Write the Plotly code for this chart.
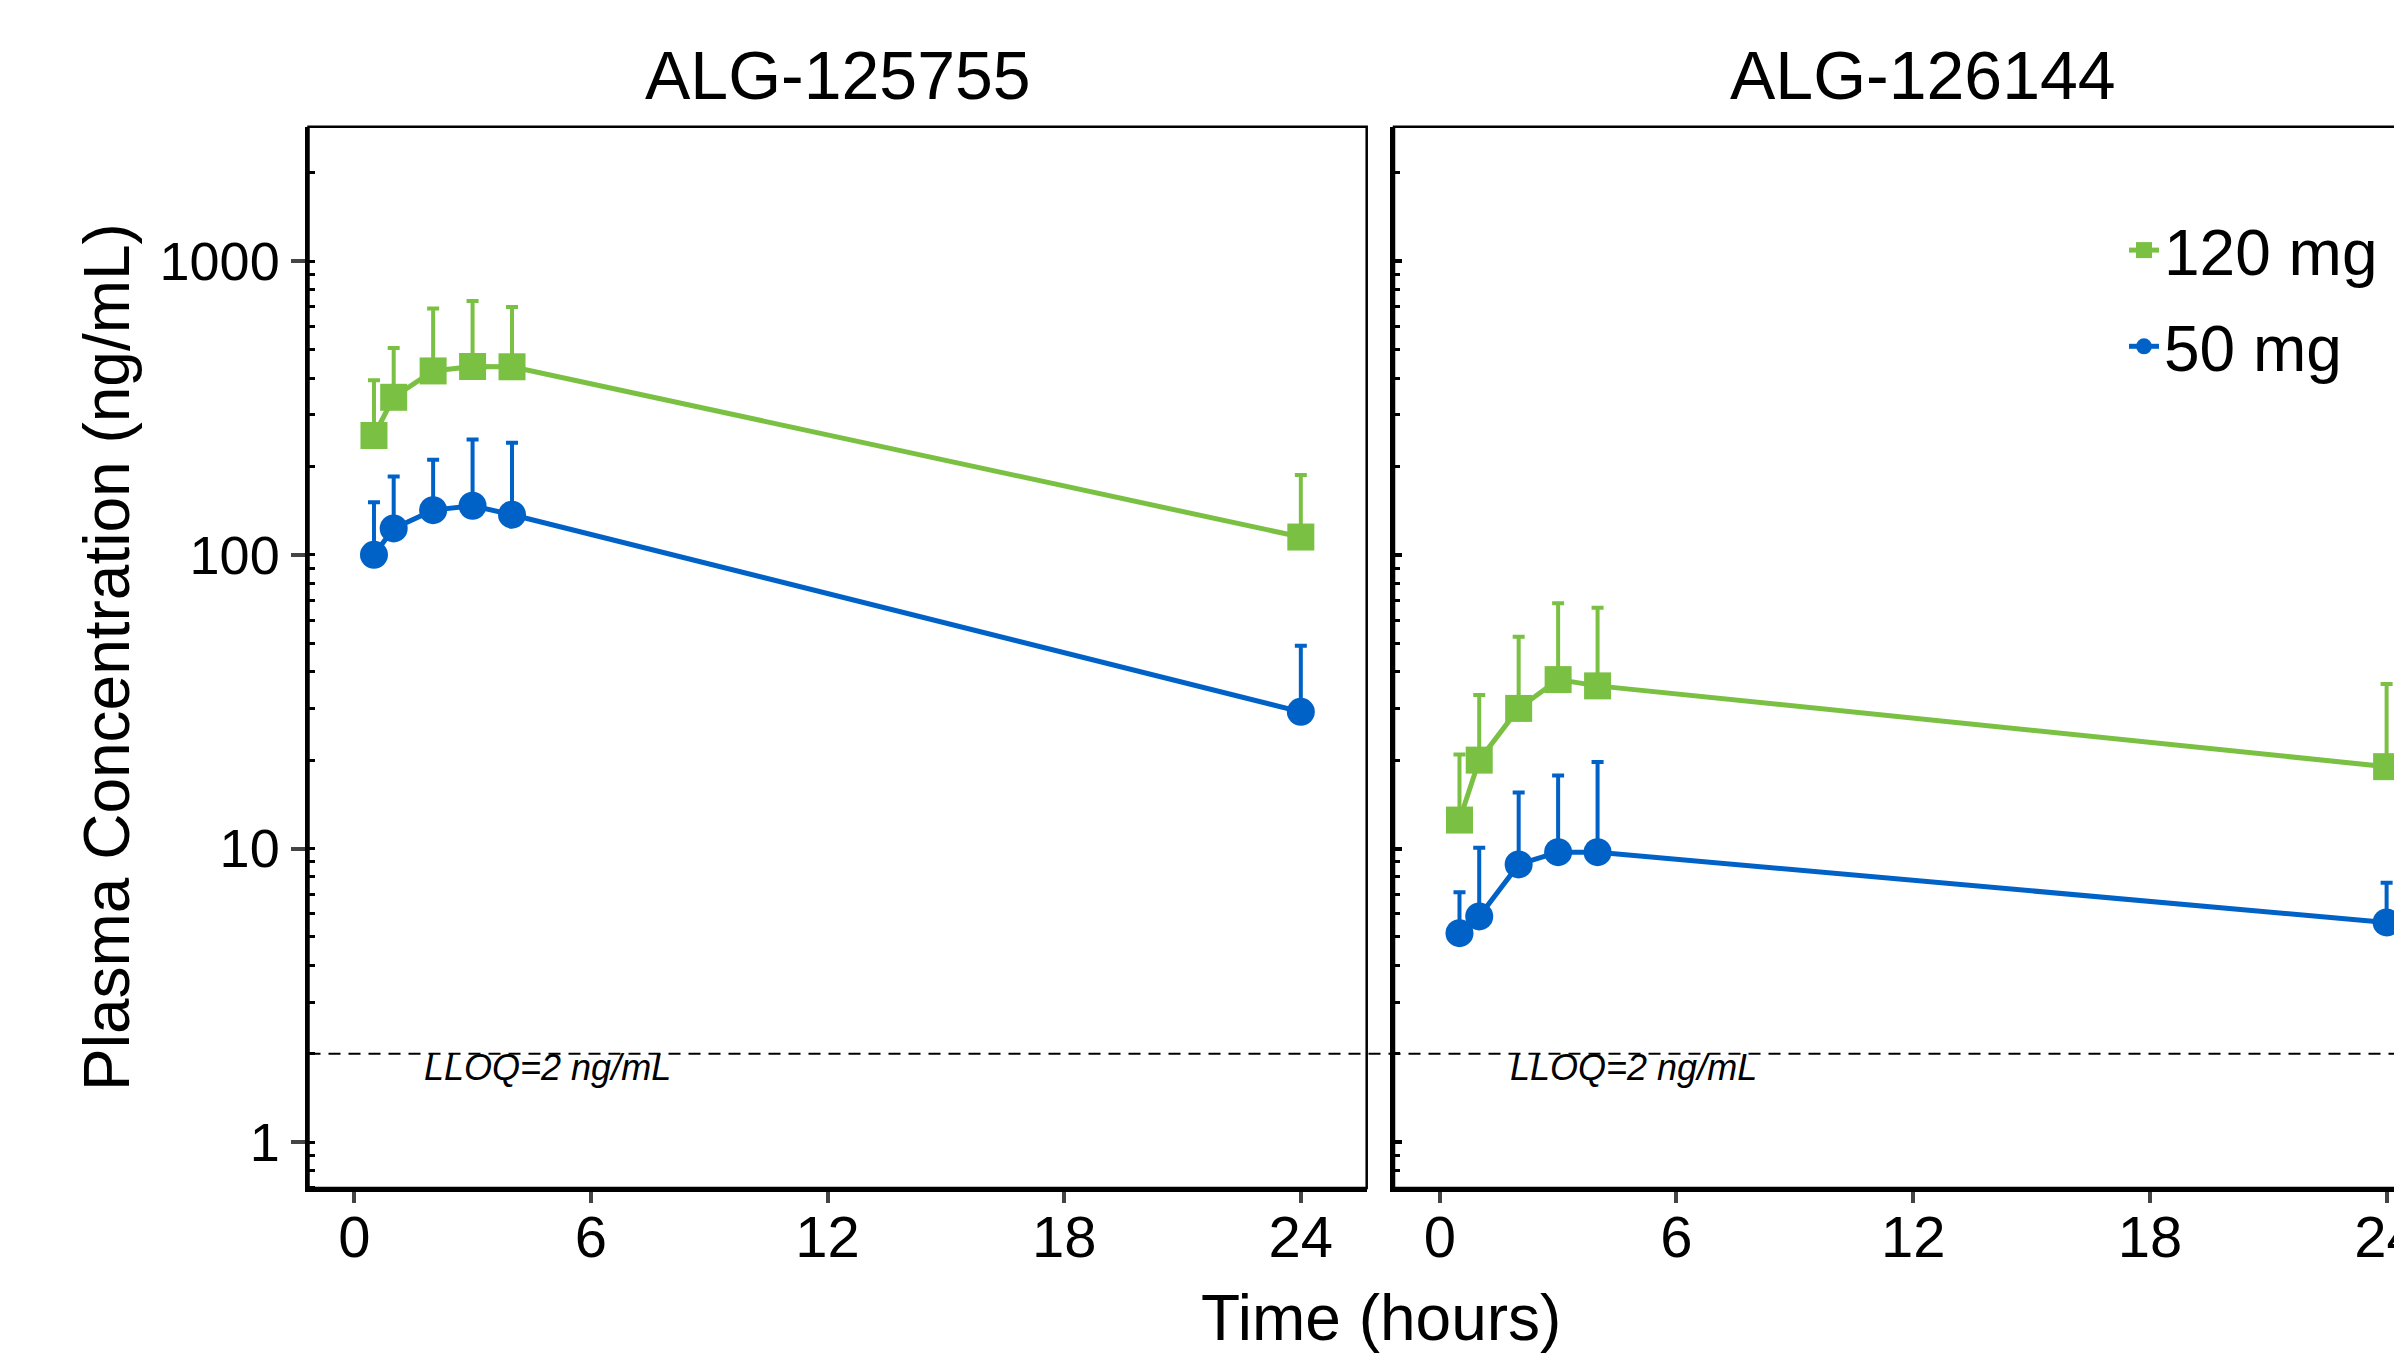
import math
import plotly.graph_objects as go

# ---------------- data ----------------
time_h = [0.5, 1, 2, 3, 4, 24]
panels = ["ALG-125755", "ALG-126144"]
doses = ["120 mg", "50 mg"]

# ALG-125755
a755_120_mean = [255, 344, 423, 438, 437, 115]
a755_120_sd = [138, 162, 267, 294, 261, 72]
a755_50_mean = [100, 123, 142, 147, 137, 29.2]
a755_50_sd = [51, 62, 69, 100, 104, 19.8]

# ALG-126144
a144_120_mean = [12.5, 20, 30, 37.6, 35.8, 19.0]
a144_120_sd = [8.4, 13.3, 22.6, 30.8, 30.2, 17.3]
a144_50_mean = [5.15, 5.87, 8.83, 9.72, 9.72, 5.6]
a144_50_sd = [1.95, 4.2, 6.7, 8.0, 10.0, 2.05]

x_tick_vals = [0, 6, 12, 18, 24]
y_tick_vals = [1, 10, 100, 1000]
y_tick_text = ["1", "10", "100", "1000"]
lloq = 2
lloq_label = "LLOQ=2 ng/mL"
x_title = "Time (hours)"
y_title = "Plasma Concentration (ng/mL)"

# ---------------- style ----------------
W, H = 2470, 1354
FONT = "Liberation Sans, Arial, sans-serif"
GREEN = "#7AC143"
BLUE = "#0062C6"
dose_style = {
    "120 mg": dict(color=GREEN, symbol="square", size=27),
    "50 mg": dict(color=BLUE, symbol="circle", size=28),
}

x_dom = [[308.5 / W, 1366.7 / W], [1394 / W, 2452.5 / W]]
y_dom = [(H - 1188) / H, (H - 126.7) / H]
x_range = [-1.16, 25.67]
y_range = [-0.156, 3.458]

series = {
    (0, "120 mg"): (a755_120_mean, a755_120_sd),
    (0, "50 mg"): (a755_50_mean, a755_50_sd),
    (1, "120 mg"): (a144_120_mean, a144_120_sd),
    (1, "50 mg"): (a144_50_mean, a144_50_sd),
}

fig = go.Figure()
for p in range(2):
    for d in doses:
        mean, sd = series[(p, d)]
        st = dose_style[d]
        fig.add_trace(go.Scatter(
            x=time_h, y=mean, mode="lines+markers", name=d,
            legendgroup=d, showlegend=(p == 0),
            line=dict(color=st["color"], width=5),
            marker=dict(color=st["color"], symbol=st["symbol"], size=st["size"]),
            error_y=dict(type="data", array=sd, arrayminus=[0] * len(sd),
                         symmetric=False, color=st["color"], thickness=4, width=6),
            xaxis="x" if p == 0 else "x2", yaxis="y" if p == 0 else "y2",
            cliponaxis=False,
        ))

common_x = dict(range=x_range, tickvals=x_tick_vals, ticks="outside", ticklen=11,
                tickwidth=4, tickcolor="#444", showline=True, linewidth=4,
                linecolor="black", showgrid=False, zeroline=False,
                ticklabelstandoff=-16,
                tickfont=dict(family=FONT, size=58, color="black"))
common_y = dict(type="log", range=y_range, tickvals=y_tick_vals, ticktext=y_tick_text,
                showline=True, linewidth=4, linecolor="black", showgrid=False,
                zeroline=False, domain=y_dom,
                minor=dict(ticks="inside", ticklen=6, tickwidth=3, tickcolor="black",
                           dtick="D1", showgrid=False))

fig.update_layout(
    width=W, height=H,
    margin=dict(l=0, r=0, t=0, b=0),
    paper_bgcolor="white", plot_bgcolor="white",
    font=dict(family=FONT, color="black"),
    xaxis=dict(domain=x_dom[0], anchor="y", **common_x),
    xaxis2=dict(domain=x_dom[1], anchor="y2", **common_x),
    yaxis=dict(anchor="x", ticks="outside", ticklen=14, tickwidth=4, tickcolor="#444",
               tickfont=dict(family=FONT, size=54, color="black"), **common_y),
    yaxis2=dict(anchor="x2", ticks="inside", ticklen=8, tickwidth=4, tickcolor="black",
                showticklabels=False, **common_y),
    legend=dict(x=2124 / W, y=(H - 202) / H, xanchor="left", yanchor="top",
                xref="paper", yref="paper", bgcolor="rgba(0,0,0,0)",
                font=dict(family=FONT, size=64, color="black"),
                itemsizing="trace"),
    showlegend=True,
)

# panel frames (thin top/right borders)
for p in range(2):
    xr = "x domain" if p == 0 else "x2 domain"
    yr = "y domain" if p == 0 else "y2 domain"
    fig.add_shape(type="rect", xref=xr, yref=yr, x0=0, x1=1, y0=0, y1=1,
                  line=dict(color="black", width=2.5), layer="above")

# LLOQ dashed line across both panels
fig.add_shape(type="line", xref="paper", yref="y", x0=x_dom[0][0], x1=1,
              y0=lloq, y1=lloq, line=dict(color="black", width=2, dash="12px,8px"),
              layer="above")

# LLOQ labels
for p in range(2):
    fig.add_annotation(text=lloq_label, xref="x" if p == 0 else "x2",
                       yref="y" if p == 0 else "y2", x=1.72, y=math.log10(lloq),
                       xanchor="left", yanchor="top", yshift=9, showarrow=False,
                       font=dict(family=FONT, size=36, color="black", style="italic"))

# panel titles
for p in range(2):
    fig.add_annotation(text=panels[p], xref="paper", yref="paper",
                       x=(x_dom[p][0] + x_dom[p][1]) / 2, y=(H - 75) / H,
                       xanchor="center", yanchor="middle", showarrow=False,
                       font=dict(family=FONT, size=68, color="black"))

# axis titles
fig.add_annotation(text=x_title, xref="paper", yref="paper",
                   x=(x_dom[0][0] + x_dom[1][1]) / 2, y=(H - 1318) / H,
                   xanchor="center", yanchor="middle", showarrow=False,
                   font=dict(family=FONT, size=64, color="black"))
fig.add_annotation(text=y_title, xref="paper", yref="paper",
                   x=107 / W, y=(H - 657) / H, textangle=-90,
                   xanchor="center", yanchor="middle", showarrow=False,
                   font=dict(family=FONT, size=64, color="black"))

fig.write_html("out.html",
               config={"displayModeBar": False},
               post_script="document.body.style.margin='0';"
                           "document.body.style.overflow='hidden';"
                           "document.documentElement.style.overflow='hidden';")
